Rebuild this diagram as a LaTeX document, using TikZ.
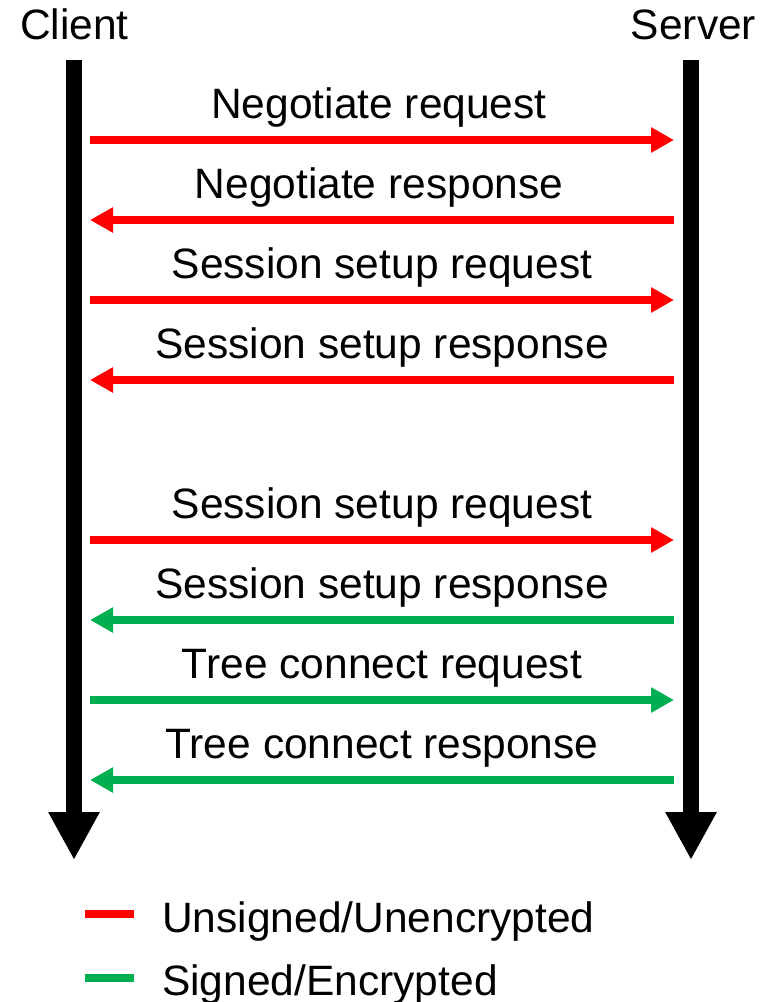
\documentclass[tikz,border=0pt]{standalone}
\usepackage{fontspec}
\setmainfont{Liberation Sans}
\usetikzlibrary{arrows.meta}

\definecolor{plainred}{RGB}{255,0,0}
\definecolor{securegreen}{RGB}{0,176,80}

\begin{document}
\begin{tikzpicture}[x=1pt, y=-1pt,
    lifeline/.style={line width=16pt, draw=black, -{Triangle[length=48pt,width=48pt]}},
    msg/.style={line width=8pt, -{Triangle[length=23pt,width=24pt]}},
    unsigned/.style={msg, draw=plainred},
    signed/.style={msg, draw=securegreen},
    lbl/.style={inner sep=0pt, anchor=base, font=\fontsize{42.5}{50}\selectfont},
    legendline/.style={line width=8pt}]

  \useasboundingbox (0,0) rectangle (764,1002);

  % participants
  \node[lbl] (client) at (74.5,39) {Client};
  \node[lbl] (server) at (693.5,39) {Server};

  % lifelines running down the page
  \coordinate (ctop) at (74,60);
  \coordinate (cbot) at (74,860);
  \coordinate (stop) at (691,60);
  \coordinate (sbot) at (691,860);
  \draw[lifeline] (ctop) -- (cbot);
  \draw[lifeline] (stop) -- (sbot);

  % message end points on each side
  \foreach \i/\y in {1/140,2/220,3/300,4/380,5/540,6/620,7/700,8/780}{
    \coordinate (c\i) at (90,\y);
    \coordinate (s\i) at (674,\y);
  }

  % messages
  \draw[unsigned] (c1) -- (s1);
  \draw[unsigned] (s2) -- (c2);
  \draw[unsigned] (c3) -- (s3);
  \draw[unsigned] (s4) -- (c4);
  \draw[unsigned] (c5) -- (s5);
  \draw[signed]   (s6) -- (c6);
  \draw[signed]   (c7) -- (s7);
  \draw[signed]   (s8) -- (c8);

  % message labels
  \node[lbl] (m1) at (379,118) {Negotiate request};
  \node[lbl] (m2) at (379,198) {Negotiate response};
  \node[lbl] (m3) at (382,278) {Session setup request};
  \node[lbl] (m4) at (382,358) {Session setup response};
  \node[lbl] (m5) at (382,518) {Session setup request};
  \node[lbl] (m6) at (382,598) {Session setup response};
  \node[lbl] (m7) at (382,678) {Tree connect request};
  \node[lbl] (m8) at (382,758) {Tree connect response};

  % legend
  \coordinate (ra) at (85,914);
  \coordinate (rb) at (134,914);
  \coordinate (ga) at (85,978);
  \coordinate (gb) at (134,978);
  \draw[legendline, plainred] (ra) -- (rb);
  \draw[legendline, securegreen] (ga) -- (gb);
  \node[lbl, anchor=base west] (lu) at (162,932) {Unsigned/Unencrypted};
  \node[lbl, anchor=base west] (ls) at (162,995) {Signed/Encrypted};
\end{tikzpicture}
\end{document}
